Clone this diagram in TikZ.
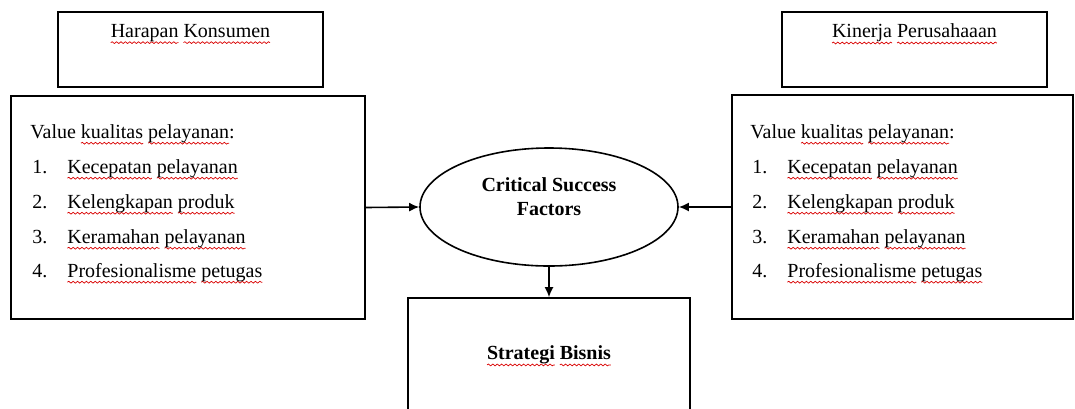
\documentclass[tikz,border=0pt]{standalone}
\usepackage{fontspec}
\setmainfont{Liberation Serif}
\usetikzlibrary{shapes.geometric,arrows.meta,decorations.pathmorphing}
\newlength\sqw
\newcommand\sq[1]{\settowidth\sqw{#1}\rlap{\tikz[baseline=0pt,overlay,x=1pt,y=1pt]\draw[red!85!black, line width=0.35pt, decorate, decoration={snake,amplitude=0.45pt,segment length=2.2pt}] (0pt,-2.6pt) -- (\sqw,-2.6pt);}#1}
\begin{document}
\begin{tikzpicture}[x=0.5pt,y=-0.5pt,font=\fontsize{10}{12}\selectfont,
  box/.style={draw, line width=0.8pt, rectangle, inner sep=0pt},
  txt/.style={anchor=west, inner sep=0pt, text height=7pt, text depth=2pt},
  arr/.style={-{Latex[length=5pt,width=4.5pt]}, line width=0.8pt}]
\useasboundingbox (0,0) rectangle (1075,408);
\clip (0,0) rectangle (1075,408);
% top boxes
\node[box, minimum width=132.5pt, minimum height=37.5pt] (hk) at (190.5,49.5) {};
\node (hkt) at (190.5,33) {\sq{Harapan} \sq{Konsumen}};
\node[box, minimum width=132.5pt, minimum height=37.5pt] (kp) at (914.5,49.5) {};
\node (kpt) at (914.5,33) {\sq{Kinerja} \sq{Perusahaaan}};
% list boxes
\node[box, minimum width=177pt, minimum height=111.5pt] (lb) at (188,207.5) {};
\node[box, minimum width=170.5pt, minimum height=112pt] (rb) at (902.5,207) {};
% list texts
\node[txt] (lv) at (30,133) {Value \sq{kualitas} \sq{pelayanan}:};
\node[txt] (rv) at (750,133) {Value \sq{kualitas} \sq{pelayanan}:};
\foreach \i/\y/\t in {1/168/{\sq{Kecepatan} \sq{pelayanan}},2/203/{\sq{Kelengkapan} \sq{produk}},3/238/{\sq{Keramahan} \sq{pelayanan}},4/272/{\sq{Profesionalisme} \sq{petugas}}}{
  \node[txt] (ln\i) at (32,\y) {\i.};
  \node[txt] (lt\i) at (67,\y) {\t};
  \node[txt] (rn\i) at (752,\y) {\i.};
  \node[txt] (rt\i) at (787,\y) {\t};
}
% centre
\node[draw, ellipse, line width=0.8pt, minimum width=129pt, minimum height=59pt, inner sep=0pt] (csf) at (549,207) {};
\node[font=\fontsize{10}{12}\selectfont\bfseries, align=center] (csft) at (549,197) {Critical Success\\Factors};
\node[box, minimum width=141pt, minimum height=61pt] (sb) at (549,359) {};
\node[font=\bfseries] (sbt) at (549,355) {\sq{Strategi} \sq{Bisnis}};
% arrows
\draw[arr] (lb.east) -- (csf.west);
\draw[arr] (rb.west) -- (csf.east);
\draw[arr] (csf.south) -- (sb.north);
\end{tikzpicture}
\end{document}
